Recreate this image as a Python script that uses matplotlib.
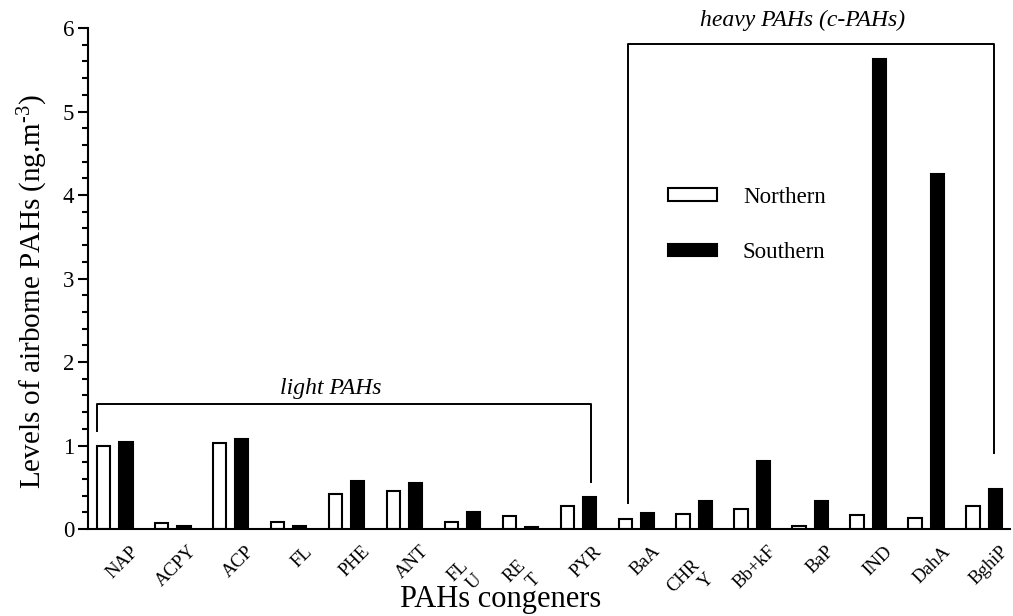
import matplotlib
matplotlib.use("Agg")
import matplotlib.pyplot as plt
import matplotlib.transforms as mtransforms
import numpy as np
from matplotlib.ticker import MultipleLocator

plt.rcParams["font.family"] = "Liberation Serif"
plt.rcParams["mathtext.fontset"] = "custom"
plt.rcParams["mathtext.rm"] = "Liberation Serif"
plt.rcParams["mathtext.it"] = "Liberation Serif:italic"

# ---------------------------------------------------------------------------
# Data (ng.m-3)
# ---------------------------------------------------------------------------
congeners = ["NAP", "ACPY", "ACP", "FL", "PHE", "ANT", "FL\nU", "RE\nT", "PYR",
             "BaA", "CHR\nY", "Bb+kF", "BaP", "IND", "DahA", "BghiP"]
northern = [1.00, 0.07, 1.035, 0.09, 0.425, 0.45, 0.08, 0.15, 0.28,
            0.125, 0.18, 0.245, 0.04, 0.165, 0.135, 0.27]
southern = [1.04, 0.04, 1.075, 0.04, 0.575, 0.55, 0.205, 0.03, 0.385,
            0.195, 0.34, 0.815, 0.34, 5.63, 4.25, 0.48]

# bracket annotations (group-index x, value y)
light_x = [-0.30, -0.30, 8.22, 8.22]
light_y = [1.175, 1.495, 1.495, 0.56]
heavy_x = [8.85, 8.85, 15.16, 15.16]
heavy_y = [0.31, 5.81, 5.81, 0.91]

fig = plt.figure(figsize=(10.13, 6.16), dpi=100)
ax = fig.add_axes([0.0869, 0.1412, 0.9101, 0.8133])

x = np.arange(len(congeners))
w = 0.24
off = 0.19
b1 = ax.bar(x - off, northern, w, color="white", edgecolor="black", linewidth=1.5, label="Northern")
b2 = ax.bar(x + off, southern, w, color="black", edgecolor="black", linewidth=1.5, label="Southern")

ax.plot(light_x, light_y, color="black", lw=1.4, clip_on=False)
ax.plot(heavy_x, heavy_y, color="black", lw=1.4, clip_on=False)
ax.text(3.72, 1.615, "light PAHs", style="italic", fontsize=17, ha="center", va="baseline")
ax.text(11.86, 6.03, "heavy PAHs (c-PAHs)", style="italic", fontsize=17,
        ha="center", va="baseline", clip_on=False)

ax.set_xlim(-0.457, 15.44)
ax.set_ylim(0, 6)
ax.yaxis.set_major_locator(MultipleLocator(1))
ax.yaxis.set_minor_locator(MultipleLocator(0.2))
ax.tick_params(axis="y", which="major", direction="out", length=7, width=1.5, labelsize=16.5, pad=3)
ax.tick_params(axis="y", which="minor", direction="out", length=4.3, width=1.5)
ax.tick_params(axis="x", length=0, labelsize=13.5)

for s in ["top", "right"]:
    ax.spines[s].set_visible(False)
for s in ["left", "bottom"]:
    ax.spines[s].set_linewidth(1.5)

ax.set_xticks(x)
labels = ax.set_xticklabels(congeners, rotation=45, ha="right", va="top", rotation_mode="anchor")
for lab in labels:
    if "\n" in lab.get_text():
        dx, dy = -3, -23
    else:
        dx, dy = 15, -9
    lab.set_transform(lab.get_transform() + mtransforms.ScaledTranslation(dx / 100, dy / 100, fig.dpi_scale_trans))

ax.set_ylabel("Levels of airborne PAHs (ng.m$^{\\text{-3}}$)", fontsize=21)
ax.yaxis.set_label_coords(-0.041, 0.473)
ax.set_xlabel("PAHs congeners", fontsize=22)
ax.xaxis.set_label_coords(0.447, -0.112)

ax.legend(handles=[b1, b2], loc="center left", bbox_to_anchor=(0.629, 0.607),
          frameon=False, fontsize=16.5, handlelength=2.14, handleheight=0.44,
          handletextpad=1.13, labelspacing=1.5, borderpad=0, borderaxespad=0)

fig.savefig("out.png", dpi=100)
